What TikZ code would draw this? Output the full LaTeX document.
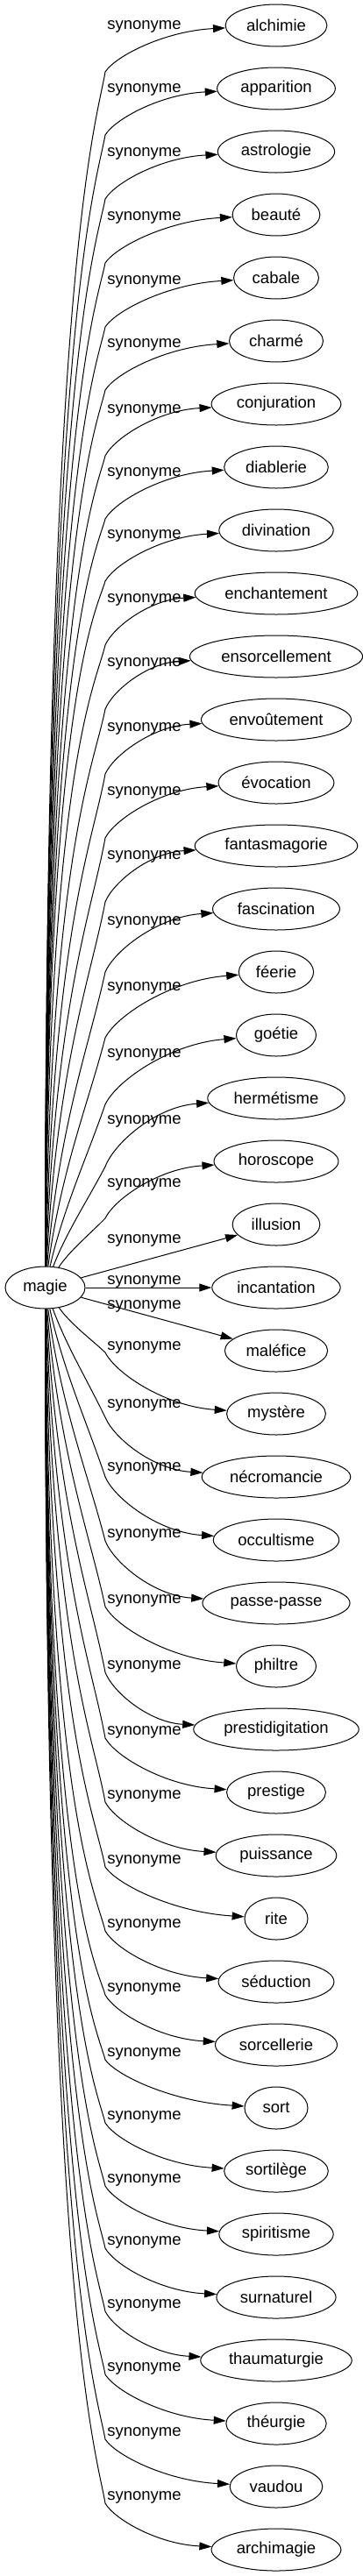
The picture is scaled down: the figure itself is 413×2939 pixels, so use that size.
\documentclass[tikz,border=0pt]{standalone}
\usepackage{fontspec}
\setmainfont{Liberation Sans}
\usetikzlibrary{shapes.geometric,arrows.meta,calc}
\newcommand{\wordfont}{\fontsize{18.5}{22}\selectfont}
\begin{document}
\begin{tikzpicture}[x=1pt,y=-1pt,
  word/.style={draw, ellipse, line width=1pt, inner xsep=7pt, inner ysep=2pt,
    minimum width=72pt, minimum height=48pt, font=\wordfont},
  lab/.style={font=\wordfont, inner sep=0pt, anchor=base},
  syn/.style={line width=1pt, -{Triangle[length=14pt,width=9pt]}}]
\fill[white] (0,0) rectangle (413,2939);
\useasboundingbox (0,0) rectangle (413,2939);

\node[word] (magie) at (51.5,1469) {magie};

\foreach \w [count=\i] in {alchimie, apparition, astrologie, beauté, cabale, charmé,
  conjuration, diablerie, divination, enchantement, ensorcellement, envoûtement,
  évocation, fantasmagorie, fascination, féerie, goétie, hermétisme, horoscope,
  illusion, incantation, maléfice, mystère, nécromancie, occultisme, passe-passe,
  philtre, prestidigitation, prestige, puissance, rite, séduction, sorcellerie,
  sort, sortilège, spiritisme, surnaturel, thaumaturgie, théurgie, vaudou, archimagie}
  \node[word] (t\i) at (315, {29+72*(\i-1)}) {\w};

\foreach \i/\lab in {1/27, 2/99, 3/172, 4/245, 5/318, 6/390, 7/465, 8/537, 9/608,
  10/681, 11/754, 12/828, 13/901, 14/974, 15/1049, 16/1124, 17/1200, 18/1276,
  19/1348, 20/1412, 21/1459, 22/1487, 23/1534, 24/1600, 25/1672, 26/1748, 27/1823,
  28/1898, 29/1973, 30/2046, 31/2120, 32/2193, 33/2266, 34/2340, 35/2412, 36/2484,
  37/2555, 38/2627, 39/2699, 40/2773, 41/2846}
  \node[lab] (l\i) at (164.5, \lab+6) {synonyme};

% upper edges
\foreach \kk/\bend/\sx in {1/82/52.0, 2/154/52.35, 3/227/52.7, 4/300/53.05,
  5/373/53.4, 6/445/53.75, 7/520/54.1, 8/592/54.45, 9/663/54.8, 10/736/55.15,
  11/809/55.5, 12/883/55.85, 13/956/56.2, 14/1029/56.55, 15/1109/56.9,
  16/1184/57.25, 17/1260/57.6, 18/1331/60, 19/1390/66} {
  \pgfmathsetmacro{\dd}{1445-\bend}
  \pgfmathsetmacro{\aal}{min(1,max(0,(\dd-150)/600))}
  \pgfmathsetmacro{\cax}{\sx+(1-\aal)*0.25*(120-\sx)}
  \pgfmathsetmacro{\cay}{1445-(0.33+0.51*\aal)*\dd}
  \pgfmathsetmacro{\cbx}{120-(\aal*10+(1-\aal)*(120-\sx)/3)}
  \pgfmathsetmacro{\cby}{\bend+\aal*0.044*\dd+(1-\aal)*\dd/3}
  \pgfmathsetmacro{\ty}{29+72*(\kk-1)}
  \pgfmathsetmacro{\ccy}{\bend-0.35*(\bend-\ty)}
  \pgfmathsetmacro{\ccp}{(\ccy-0.09*\ty)/0.91}
  \pgfmathsetmacro{\cdy}{\ty+0.12*(\bend-\ty)}
  \pgfmathsetmacro{\cdp}{2*\cdy-\ty}
  \draw[syn] (magie) .. controls (\cax,\cay) and (\cbx,\cby) .. (120,\bend)
    .. controls ($(120,\ccp)!0.09!(t\kk.west)$) and ($(t\kk.west)!0.5!(120,\cdp)$) .. (t\kk);
}

% middle edges
\draw[syn] (magie) -- (t20);
\draw[syn] (magie) -- (t21);
\draw[syn] (magie) -- (t22);

% lower edges
\foreach \kk/\bend/\sx in {23/1543/66, 24/1617/60, 25/1685/57.6, 26/1758/57.25,
  27/1833/56.9, 28/1908/56.55, 29/1983/56.2, 30/2056/55.85, 31/2130/55.5,
  32/2203/55.15, 33/2276/54.8, 34/2350/54.45, 35/2422/54.1, 36/2494/53.75,
  37/2565/53.4, 38/2637/53.05, 39/2709/52.7, 40/2783/52.35, 41/2856/52.0} {
  \pgfmathsetmacro{\dd}{\bend-1493}
  \pgfmathsetmacro{\aal}{min(1,max(0,(\dd-150)/600))}
  \pgfmathsetmacro{\cax}{\sx+(1-\aal)*0.25*(120-\sx)}
  \pgfmathsetmacro{\cay}{1493+(0.33+0.51*\aal)*\dd}
  \pgfmathsetmacro{\cbx}{120-(\aal*10+(1-\aal)*(120-\sx)/3)}
  \pgfmathsetmacro{\cby}{\bend-\aal*0.044*\dd-(1-\aal)*\dd/3}
  \pgfmathsetmacro{\ty}{29+72*(\kk-1)}
  \pgfmathsetmacro{\ccy}{\bend+0.35*(\ty-\bend)}
  \pgfmathsetmacro{\ccp}{(\ccy-0.09*\ty)/0.91}
  \pgfmathsetmacro{\cdy}{\ty-0.12*(\ty-\bend)}
  \pgfmathsetmacro{\cdp}{2*\cdy-\ty}
  \draw[syn] (magie) .. controls (\cax,\cay) and (\cbx,\cby) .. (120,\bend)
    .. controls ($(120,\ccp)!0.09!(t\kk.west)$) and ($(t\kk.west)!0.5!(120,\cdp)$) .. (t\kk);
}
\end{tikzpicture}
\end{document}
